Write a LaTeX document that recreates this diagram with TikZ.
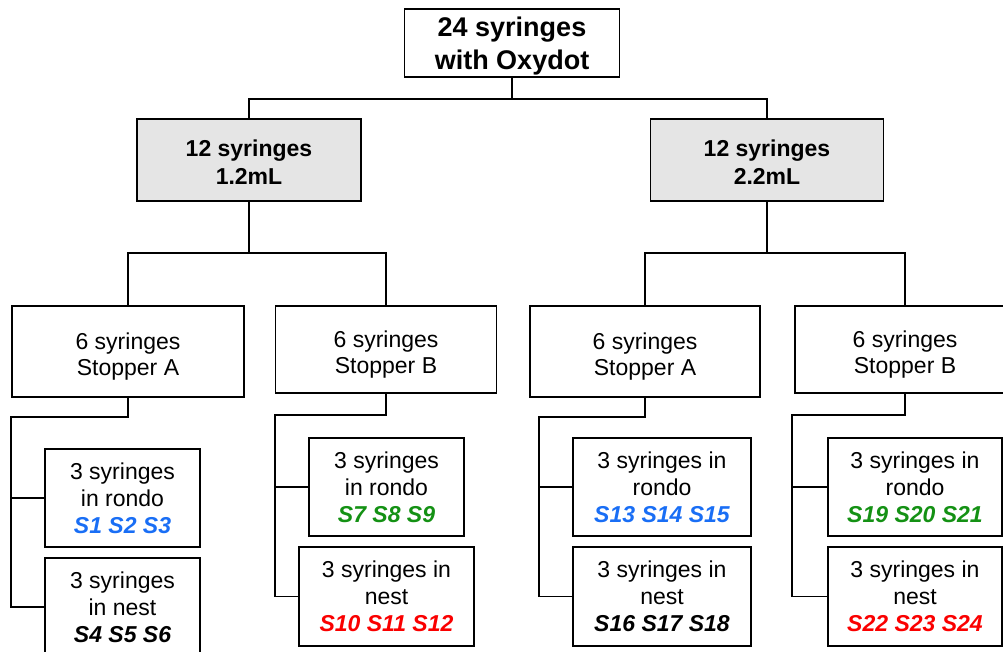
\documentclass[tikz,border=0pt]{standalone}
\usepackage{fontspec}
\setmainfont{Liberation Sans}
\usepackage{tikz}
\definecolor{sblue}{RGB}{25,110,245}
\definecolor{sgreen}{RGB}{20,145,20}
\definecolor{sred}{RGB}{250,0,0}
\newcommand{\slabel}[2]{{\color{#1}\bfseries\itshape #2}}
\tikzstyle{box} = [
	rectangle,
	draw=black,
	line width=1.6pt,
	align=center,
	inner sep=0pt,
	font=\fontsize{23}{27}\selectfont
]
\tikzstyle{topbox} = [box, font=\fontsize{27}{33}\selectfont\bfseries, text height=58pt]
\tikzstyle{volbox} = [box, fill=black!10, font=\fontsize{23}{28}\selectfont\bfseries, text height=50pt]
\tikzstyle{stopbox} = [box, font=\fontsize{23}{26.5}\selectfont, text height=53pt]
\tikzstyle{line} = [line width=1.7pt]

\begin{document}
\begin{tikzpicture}[x=1pt, y=-1pt]
    \useasboundingbox (0, 0) rectangle (1003, 652);
    \node [topbox, minimum width=215, minimum height=68] at (512, 43) (top) {24 syringes\\with Oxydot};
    \node [volbox, minimum width=224, minimum height=82] at (249, 160) (vol A) {12 syringes\\1.2mL};
    \node [volbox, minimum width=233, minimum height=82] at (767, 160) (vol B) {12 syringes\\2.2mL};
    \node [stopbox, minimum width=232, minimum height=91] at (128, 351.5) (stop A1) {6 syringes\\Stopper A};
    \node [stopbox, minimum width=221, minimum height=87] at (386, 349.5) (stop B1) {6 syringes\\Stopper B};
    \node [stopbox, minimum width=230, minimum height=91] at (645, 351.5) (stop A2) {6 syringes\\Stopper A};
    \node [stopbox, minimum width=220, minimum height=87] at (905, 349.5) (stop B2) {6 syringes\\Stopper B};
    \node [box, minimum width=155, minimum height=98] at (122.5, 498) (rondo A1) {3 syringes\\in rondo\\\slabel{sblue}{S1 S2 S3}};
    \node [box, minimum width=155, minimum height=98] at (122.5, 607) (nest A1) {3 syringes\\in nest\\\slabel{black}{S4 S5 S6}};
    \node [box, minimum width=155, minimum height=98] at (386.5, 487) (rondo B1) {3 syringes\\in rondo\\\slabel{sgreen}{S7 S8 S9}};
    \node [box, minimum width=175, minimum height=99] at (386.5, 596.5) (nest B1) {3 syringes in\\nest\\\slabel{sred}{S10 S11 S12}};
    \node [box, minimum width=178, minimum height=98] at (662, 487) (rondo A2) {3 syringes in\\rondo\\\slabel{sblue}{S13 S14 S15}};
    \node [box, minimum width=178, minimum height=99] at (662, 596.5) (nest A2) {3 syringes in\\nest\\\slabel{black}{S16 S17 S18}};
    \node [box, minimum width=174, minimum height=98] at (915, 487) (rondo B2) {3 syringes in\\rondo\\\slabel{sgreen}{S19 S20 S21}};
    \node [box, minimum width=174, minimum height=99] at (915, 596.5) (nest B2) {3 syringes in\\nest\\\slabel{sred}{S22 S23 S24}};
    \coordinate (spine A1) at (11, 417);
    \coordinate (spine B1) at (275, 415);
    \coordinate (spine A2) at (539, 417);
    \coordinate (spine B2) at (792, 415);
    \draw [line] (top.south) -- ++(0, 21) -| (vol A.north);
    \draw [line] (top.south) -- ++(0, 21) -| (vol B.north);
    \draw [line] (vol A.south) -- ++(0, 51) -| (stop A1.north);
    \draw [line] (vol A.south) -- ++(0, 51) -| (stop B1.north);
    \draw [line] (vol B.south) -- ++(0, 51) -| (stop A2.north);
    \draw [line] (vol B.south) -- ++(0, 51) -| (stop B2.north);
    \draw [line] (stop A1.south) |- (spine A1) |- (rondo A1.west);
    \draw [line] (spine A1) |- (nest A1.west);
    \draw [line] (stop B1.south) |- (spine B1) |- (rondo B1.west);
    \draw [line] (spine B1) |- (nest B1.west);
    \draw [line] (stop A2.south) |- (spine A2) |- (rondo A2.west);
    \draw [line] (spine A2) |- (nest A2.west);
    \draw [line] (stop B2.south) |- (spine B2) |- (rondo B2.west);
    \draw [line] (spine B2) |- (nest B2.west);
\end{tikzpicture}
\end{document}
